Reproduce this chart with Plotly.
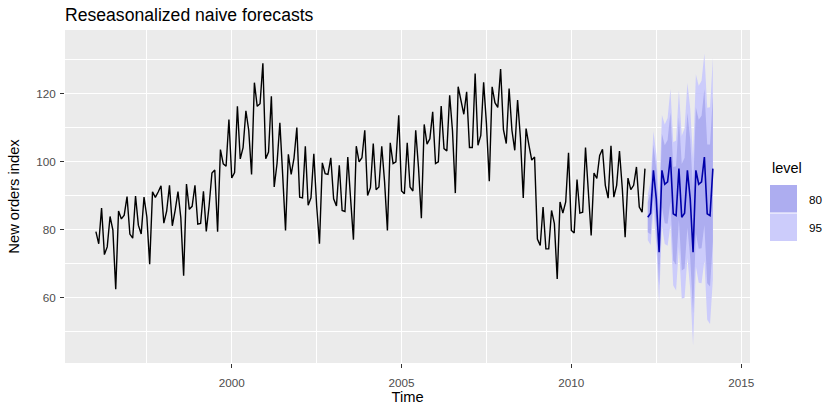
import plotly.graph_objects as go

# ---- data (monthly, Jan 1996 - Mar 2012) ----
start_year = 1996
orders = [
    79.35, 75.78, 86.32, 72.60, 74.86, 83.81, 79.80, 62.41, 85.41, 83.11, 84.21, 89.70,   # 1996
    78.64, 77.42, 89.86, 81.27, 78.68, 89.51, 83.67, 69.80, 91.09, 89.43, 91.04, 92.87,   # 1997
    81.87, 85.36, 92.98, 81.09, 85.64, 91.14, 83.46, 66.37, 93.34, 85.93, 86.81, 93.02,   # 1998
    81.59, 81.77, 91.24, 79.45, 86.99, 96.60, 97.50, 79.30, 103.49, 99.32, 98.62, 112.35, # 1999
    95.13, 96.72, 116.27, 100.75, 104.1, 114.9, 109.2, 96.2, 123.2, 116.24, 117.0, 128.9, # 2000
    100.8, 102.8, 119.2, 92.5, 99.4, 111.4, 96.0, 79.7, 102.1, 96.2, 101.0, 110.0,        # 2001
    89.5, 89.3, 104.5, 87.1, 89.3, 102.3, 87.0, 75.8, 99.6, 96.4, 96.2, 101.1,            # 2002
    89.0, 86.9, 98.9, 85.6, 85.3, 101.3, 89.0, 77.0, 104.5, 99.9, 101.1, 109.2,           # 2003
    90.0, 92.3, 105.3, 91.7, 92.5, 104.5, 94.0, 79.7, 105.5, 99.4, 99.9, 113.6,           # 2004
    91.3, 90.5, 105.5, 92.5, 91.3, 109.2, 98.0, 83.3, 110.9, 105.1, 106.7, 114.6,         # 2005
    99.4, 99.9, 116.3, 103.8, 103.1, 119.5, 109.0, 90.7, 122.0, 118.1, 113.9, 120.5,      # 2006
    104.1, 104.1, 125.9, 104.8, 107.7, 123.3, 111.0, 94.2, 122.0, 117.3, 115.9, 127.2,    # 2007
    109.4, 105.3, 121.5, 109.2, 103.3, 118.1, 107.0, 89.3, 109.7, 104.8, 100.4, 101.3,    # 2008
    77.2, 75.3, 86.6, 74.3, 74.3, 85.6, 81.7, 65.4, 88.1, 84.8, 88.1, 102.6,              # 2009
    79.7, 79.0, 94.7, 84.8, 85.1, 104.1, 92.0, 78.2, 96.6, 95.0, 101.8, 103.6,            # 2010
    93.0, 89.2, 104.6, 89.5, 93.0, 103.1, 92.0, 77.7, 95.1, 91.7, 93.0, 98.4,             # 2011
    86.6, 85.1, 97.9,                                                                     # 2012
]

# forecasts Apr 2012 - Mar 2014
forecast = [
    83.6, 84.8, 97.4, 89.0, 73.3, 97.4, 93.3, 94.0, 101.3, 84.6, 84.1, 97.9,
    83.6, 84.8, 97.4, 89.0, 73.3, 97.4, 93.3, 94.0, 101.3, 84.6, 84.1, 97.9,
]
half80 = [4.4, 6.2, 7.6, 8.7, 9.7, 10.7, 11.5, 12.3, 13.1, 13.8, 14.5, 15.1,
          15.7, 16.3, 16.9, 17.4, 18.0, 18.5, 19.0, 19.5, 20.0, 20.4, 20.9, 21.4]
half95 = [6.7, 9.4, 11.5, 13.3, 14.9, 16.3, 17.6, 18.8, 20.0, 21.1, 22.1, 23.1,
          24.0, 24.9, 25.8, 26.6, 27.5, 28.3, 29.0, 29.8, 30.5, 31.2, 31.9, 32.6]

x_tick_vals = [2000, 2005, 2010, 2015]
y_tick_vals = [60, 80, 100, 120]
levels = ["80", "95"]

# ---- derived ----
t_hist = [start_year + i / 12 for i in range(len(orders))]
n0 = len(orders)
t_fc = [start_year + (n0 + j) / 12 for j in range(len(forecast))]
lo80 = [f - w for f, w in zip(forecast, half80)]
hi80 = [f + w for f, w in zip(forecast, half80)]
lo95 = [f - w for f, w in zip(forecast, half95)]
hi95 = [f + w for f, w in zip(forecast, half95)]

col80 = "#ADADF0"
col95 = "#CCCCFB"

fig = go.Figure()
fig.add_trace(go.Scatter(x=t_fc + t_fc[::-1], y=hi95 + lo95[::-1], fill="toself",
                         fillcolor=col95, line=dict(width=0), mode="lines",
                         hoverinfo="skip", showlegend=False))
fig.add_trace(go.Scatter(x=t_fc + t_fc[::-1], y=hi80 + lo80[::-1], fill="toself",
                         fillcolor=col80, line=dict(width=0), mode="lines",
                         hoverinfo="skip", showlegend=False))
fig.add_trace(go.Scatter(x=t_hist, y=orders, mode="lines",
                         line=dict(color="black", width=1.4), showlegend=False))
fig.add_trace(go.Scatter(x=t_fc, y=forecast, mode="lines",
                         line=dict(color="#0000AA", width=1.6), showlegend=False))

W, H = 828, 405
ml, mr, mt, mb = 65, 78, 30, 42
pw, ph = W - ml - mr, H - mt - mb

def px(xp):
    return (xp - ml) / pw

def py(yp):
    return (H - mb - yp) / ph

# manual legend
shapes = []
annotations = []
annotations.append(dict(x=px(770), y=py(168), xref="paper", yref="paper", text="level",
                        showarrow=False, xanchor="left", yanchor="middle",
                        font=dict(size=14.5, color="black")))
for i, (lab, col) in enumerate(zip(levels, [col80, col95])):
    y0 = 185 + i * 28.5
    shapes.append(dict(type="rect", xref="paper", yref="paper",
                       x0=px(770), x1=px(797), y0=py(y0), y1=py(y0 + 27.5),
                       fillcolor=col, line=dict(width=0)))
    annotations.append(dict(x=px(807), y=py(y0 + 14), xref="paper", yref="paper",
                            text=lab, showarrow=False, xanchor="left", yanchor="middle",
                            font=dict(size=11.7, color="black")))

fig.update_layout(
    width=W, height=H,
    margin=dict(l=ml, r=mr, t=mt, b=mb, autoexpand=False),
    paper_bgcolor="white", plot_bgcolor="#EBEBEB",
    font=dict(family="Liberation Sans, Arial, sans-serif", color="black"),
    title=dict(text="Reseasonalized naive forecasts", x=ml / W, xref="container",
               xanchor="left", y=1 - 15 / H, yref="container", yanchor="middle",
               font=dict(size=17.6, color="black")),
    shapes=shapes, annotations=annotations,
    xaxis=dict(range=[1995.09, 2015.26], tickvals=x_tick_vals,
               ticktext=[str(v) for v in x_tick_vals], automargin=False,
               showgrid=True, gridcolor="white", gridwidth=1.1,
               minor=dict(tickvals=[1997.5, 2002.5, 2007.5, 2012.5], showgrid=True,
                          gridcolor="white", gridwidth=0.55, ticks=""),
               ticks="outside", ticklen=4, tickcolor="#333333", tickwidth=1,
               ticklabelstandoff=5,
               tickfont=dict(size=11.7, color="#4D4D4D"), zeroline=False,
               title=dict(text="Time", font=dict(size=14.7), standoff=9)),
    yaxis=dict(range=[40.7, 138.7], tickvals=y_tick_vals,
               ticktext=[str(v) for v in y_tick_vals], automargin=False,
               showgrid=True, gridcolor="white", gridwidth=1.1,
               minor=dict(tickvals=[50, 70, 90, 110, 130], showgrid=True,
                          gridcolor="white", gridwidth=0.55, ticks=""),
               ticks="outside", ticklen=4, tickcolor="#333333", tickwidth=1,
               ticklabelstandoff=2,
               tickfont=dict(size=11.7, color="#4D4D4D"), zeroline=False,
               title=dict(text="New orders index", font=dict(size=14.7), standoff=12)),
)

fig.write_html("out.html", config={"displayModeBar": False},
               post_script="document.body.style.margin='0px';document.body.style.overflow='hidden';")
